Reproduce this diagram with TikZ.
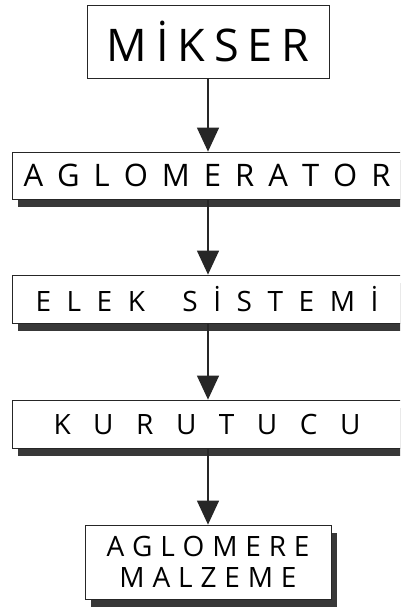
\documentclass[tikz,border=0pt]{standalone}
\usepackage{fontspec}
\setmainfont{Open Sans}
\usetikzlibrary{arrows.meta,shadows}
\newcommand\spr[2]{\hbox to #1{#2}}
\def\g{\hfil}
\def\w{\hskip 0pt plus 2.4fil\relax}
\begin{document}
\begin{tikzpicture}[x=1pt,y=-1pt,
  box/.style={draw=black!85, line width=0.8pt, fill=white, inner sep=0pt},
  shbox/.style={box, drop shadow={shadow xshift=6pt, shadow yshift=-8pt, fill=black!78, opacity=1}},
  arr/.style={draw=black!85, line width=1.3pt, -{Triangle[width=22pt,length=24pt]}}]
\useasboundingbox (0,0) rectangle (400,611);
\clip (0,0) rectangle (400,611);
\node[box, minimum width=242pt, minimum height=73pt, font=\fontsize{45}{45}\selectfont] (m) at (208,41.5)
  {\spr{203pt}{M\g İ\g K\g S\g E\g R}};
\node[shbox, minimum width=390pt, minimum height=47pt, font=\fontsize{31}{31}\selectfont] (a) at (207,175.5)
  {\spr{367pt}{A\g G\g L\g O\g M\g E\g R\g A\g T\g O\g R}};
\node[shbox, minimum width=390pt, minimum height=48pt, font=\fontsize{28}{28}\selectfont] (e) at (207,299)
  {\spr{343pt}{E\g L\g E\g K\w S\g İ\g S\g T\g E\g M\g İ}};
\node[shbox, minimum width=390pt, minimum height=48pt, font=\fontsize{28}{28}\selectfont] (k) at (207,424)
  {\spr{307pt}{K\g U\g R\g U\g T\g U\g C\g U}};
\node[shbox, minimum width=246pt, minimum height=74pt, align=center, font=\fontsize{28}{31}\selectfont] (z) at (208,562)
  {\spr{203pt}{A\g G\g L\g O\g M\g E\g R\g E}\\\spr{177pt}{M\g A\g L\g Z\g E\g M\g E}};
\draw[arr] (m.south) -- (m.south |- a.north);
\draw[arr] (m.south |- a.south) -- (m.south |- e.north);
\draw[arr] (m.south |- e.south) -- (m.south |- k.north);
\draw[arr] (m.south |- k.south) -- (z.north);
\end{tikzpicture}
\end{document}
